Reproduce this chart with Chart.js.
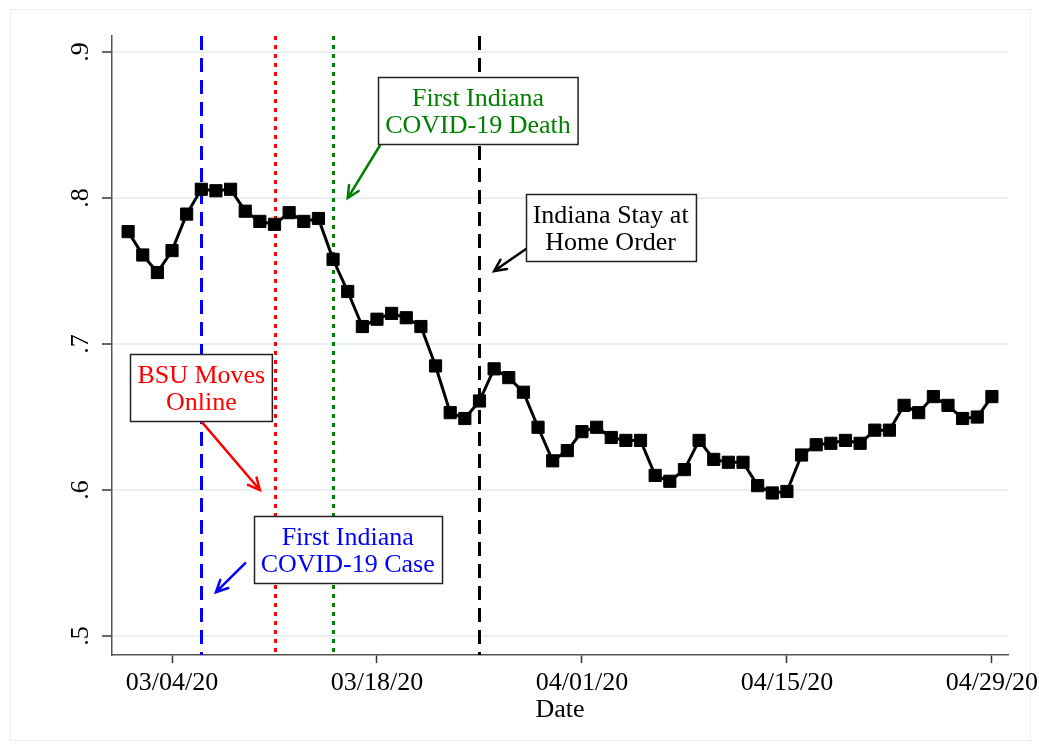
<!DOCTYPE html>
<html>
<head>
<meta charset="utf-8">
<script src="https://cdn.jsdelivr.net/npm/chart.js@4/dist/chart.umd.min.js"></script>
<style>
  html, body { margin: 0; padding: 0; background: #ffffff; }
  #wrap { width: 1039px; height: 749px; position: relative; }
</style>
</head>
<body>
<div id="wrap"><canvas id="c" width="1039" height="749"></canvas></div>
<script>
// Daily share, 03/01/20 to 04/29/20 (day 0 = 03/01/20)
const dates = [
  '03/01/20','03/02/20','03/03/20','03/04/20','03/05/20','03/06/20','03/07/20','03/08/20','03/09/20','03/10/20',
  '03/11/20','03/12/20','03/13/20','03/14/20','03/15/20','03/16/20','03/17/20','03/18/20','03/19/20','03/20/20',
  '03/21/20','03/22/20','03/23/20','03/24/20','03/25/20','03/26/20','03/27/20','03/28/20','03/29/20','03/30/20',
  '03/31/20','04/01/20','04/02/20','04/03/20','04/04/20','04/05/20','04/06/20','04/07/20','04/08/20','04/09/20',
  '04/10/20','04/11/20','04/12/20','04/13/20','04/14/20','04/15/20','04/16/20','04/17/20','04/18/20','04/19/20',
  '04/20/20','04/21/20','04/22/20','04/23/20','04/24/20','04/25/20','04/26/20','04/27/20','04/28/20','04/29/20'
];
const shareValues = [
  0.777, 0.761, 0.749, 0.764, 0.789, 0.806, 0.805, 0.806, 0.791, 0.784,
  0.782, 0.790, 0.784, 0.786, 0.758, 0.736, 0.712, 0.717, 0.721, 0.718,
  0.712, 0.685, 0.653, 0.649, 0.661, 0.683, 0.677, 0.667, 0.643, 0.620,
  0.627, 0.640, 0.643, 0.636, 0.634, 0.634, 0.610, 0.606, 0.614, 0.634,
  0.621, 0.619, 0.619, 0.603, 0.598, 0.599, 0.624, 0.631, 0.632, 0.634,
  0.632, 0.641, 0.641, 0.658, 0.653, 0.664, 0.658, 0.649, 0.650, 0.664
];

const xTickDays   = [3, 17, 31, 45, 59];
const xTickLabels = ['03/04/20', '03/18/20', '04/01/20', '04/15/20', '04/29/20'];
const yTickValues = [0.5, 0.6, 0.7, 0.8, 0.9];
const yTickLabels = ['.5', '.6', '.7', '.8', '.9'];

// Event markers: day index, colour, dash pattern
const eventDays   = [5, 10, 14, 24];
const eventColors = ['#0000ff', '#ff0000', '#008000', '#000000'];
const eventDashes = [[14, 8], [4, 5], [4, 5], [14, 8]];

// Text boxes with arrows (data coordinates)
const noteLines  = [['First Indiana', 'COVID-19 Death'], ['Indiana Stay at', 'Home Order'], ['BSU Moves', 'Online'], ['First Indiana', 'COVID-19 Case']];
const noteColors = ['#008000', '#000000', '#ff0000', '#0000ff'];
const noteCenters = [[23.9, 0.860], [32.96, 0.780], [5.0, 0.670], [15.0, 0.5595]];
const arrowFrom  = [[17.2, 0.836], [27.3, 0.766], [5.0, 0.647], [8.0, 0.550]];
const arrowTo    = [[15.0, 0.800], [25.0, 0.750], [9.0, 0.600], [6.0, 0.530]];

const FONT = "'Liberation Serif', 'Times New Roman', serif";

const points = shareValues.map((v, i) => ({ x: i, y: v }));

const decorations = {
  id: 'decorations',
  beforeDraw(chart) {
    const ctx = chart.ctx;
    ctx.save();
    ctx.fillStyle = '#ffffff';
    ctx.fillRect(0, 0, chart.width, chart.height);
    ctx.strokeStyle = '#eeeeee';
    ctx.lineWidth = 1;
    ctx.strokeRect(10.5, 9.5, 1020, 731);
    ctx.restore();
  },
  beforeDatasetsDraw(chart) {
    const ctx = chart.ctx, xs = chart.scales.x, area = chart.chartArea;
    ctx.save();
    eventDays.forEach((d, i) => {
      const px = Math.round(xs.getPixelForValue(d)) + 0.5;
      ctx.strokeStyle = eventColors[i];
      ctx.lineWidth = 3;
      ctx.setLineDash(eventDashes[i]);
      ctx.beginPath();
      ctx.moveTo(px, area.top);
      ctx.lineTo(px, area.bottom);
      ctx.stroke();
    });
    ctx.restore();
  },
  afterDraw(chart) {
    const ctx = chart.ctx, xs = chart.scales.x, ys = chart.scales.y;
    ctx.save();
    // rotated y tick labels
    ctx.font = '26px ' + FONT;
    ctx.fillStyle = '#000000';
    yTickValues.forEach((v, i) => {
      const py = ys.getPixelForValue(v);
      ctx.save();
      ctx.translate(88, py);
      ctx.rotate(-Math.PI / 2);
      ctx.textAlign = 'center';
      ctx.textBaseline = 'alphabetic';
      ctx.fillText(yTickLabels[i], 0, 0);
      ctx.restore();
    });

    // arrows
    noteLines.forEach((lines, i) => {
      const x1 = xs.getPixelForValue(arrowFrom[i][0]), y1 = ys.getPixelForValue(arrowFrom[i][1]);
      const x2 = xs.getPixelForValue(arrowTo[i][0]),   y2 = ys.getPixelForValue(arrowTo[i][1]);
      ctx.strokeStyle = noteColors[i];
      ctx.lineWidth = 2.5;
      ctx.lineCap = 'round';
      ctx.setLineDash([]);
      ctx.beginPath();
      ctx.moveTo(x1, y1);
      ctx.lineTo(x2, y2);
      const ang = Math.atan2(y2 - y1, x2 - x1), len = 13, spread = 0.45;
      ctx.moveTo(x2 - len * Math.cos(ang - spread), y2 - len * Math.sin(ang - spread));
      ctx.lineTo(x2, y2);
      ctx.lineTo(x2 - len * Math.cos(ang + spread), y2 - len * Math.sin(ang + spread));
      ctx.stroke();
    });

    // text boxes
    ctx.font = '26px ' + FONT;
    noteLines.forEach((lines, i) => {
      const cx = xs.getPixelForValue(noteCenters[i][0]);
      const cy = ys.getPixelForValue(noteCenters[i][1]);
      const w = Math.max(...lines.map(t => ctx.measureText(t).width)) + 14;
      const h = 67;
      const bx = Math.round(cx - w / 2) + 0.5, by = Math.round(cy - h / 2) + 0.5;
      ctx.fillStyle = '#ffffff';
      ctx.fillRect(bx, by, w, h);
      ctx.strokeStyle = '#222222';
      ctx.lineWidth = 1.5;
      ctx.strokeRect(bx, by, w, h);
      ctx.fillStyle = noteColors[i];
      ctx.textAlign = 'center';
      ctx.textBaseline = 'alphabetic';
      lines.forEach((t, k) => {
        ctx.fillText(t, cx, cy - 13.5 + 27 * k + 9);
      });
    });
    ctx.restore();
  }
};

new Chart(document.getElementById('c'), {
  type: 'line',
  data: {
    datasets: [{
      label: 'Share',
      data: points,
      borderColor: '#000000',
      backgroundColor: '#000000',
      borderWidth: 3,
      pointStyle: 'rect',
      pointRadius: 8.6,
      pointBorderWidth: 1,
      pointBackgroundColor: '#000000',
      pointBorderColor: '#000000',
      tension: 0
    }]
  },
  options: {
    responsive: false,
    animation: false,
    devicePixelRatio: 1,
    layout: { padding: { top: 36, right: 31, left: 0, bottom: 0 } },
    plugins: { legend: { display: false }, tooltip: { enabled: false } },
    scales: {
      x: {
        type: 'linear',
        min: -1.1,
        max: 60.1,
        afterBuildTicks(s) { s.ticks = xTickDays.map(v => ({ value: v })); },
        afterFit(s) { s.height = 94; s.paddingLeft = 0; s.paddingRight = 0; },
        ticks: {
          autoSkip: false,
          maxRotation: 0,
          minRotation: 0,
          padding: 5,
          color: '#000000',
          font: { family: FONT, size: 26 },
          callback(v) { const k = xTickDays.indexOf(v); return k >= 0 ? xTickLabels[k] : ''; }
        },
        grid: { drawOnChartArea: false, drawTicks: true, tickLength: 8, tickColor: '#333333', tickWidth: 1.5 },
        border: { display: true, color: '#555555', width: 1.5 },
        title: {
          display: true,
          text: 'Date',
          color: '#000000',
          font: { family: FONT, size: 26 },
          padding: { top: 0, bottom: 23 }
        }
      },
      y: {
        type: 'linear',
        min: 0.487,
        max: 0.911,
        afterBuildTicks(s) { s.ticks = yTickValues.map(v => ({ value: v })); },
        afterFit(s) { s.width = 112; },
        ticks: { display: false },
        grid: { color: '#e8f0f2', lineWidth: 2, drawTicks: true, tickLength: 10, tickColor: '#333333', tickWidth: 1.5 },
        border: { display: true, color: '#555555', width: 1.5 }
      }
    }
  },
  plugins: [decorations]
});
</script>
</body>
</html>
